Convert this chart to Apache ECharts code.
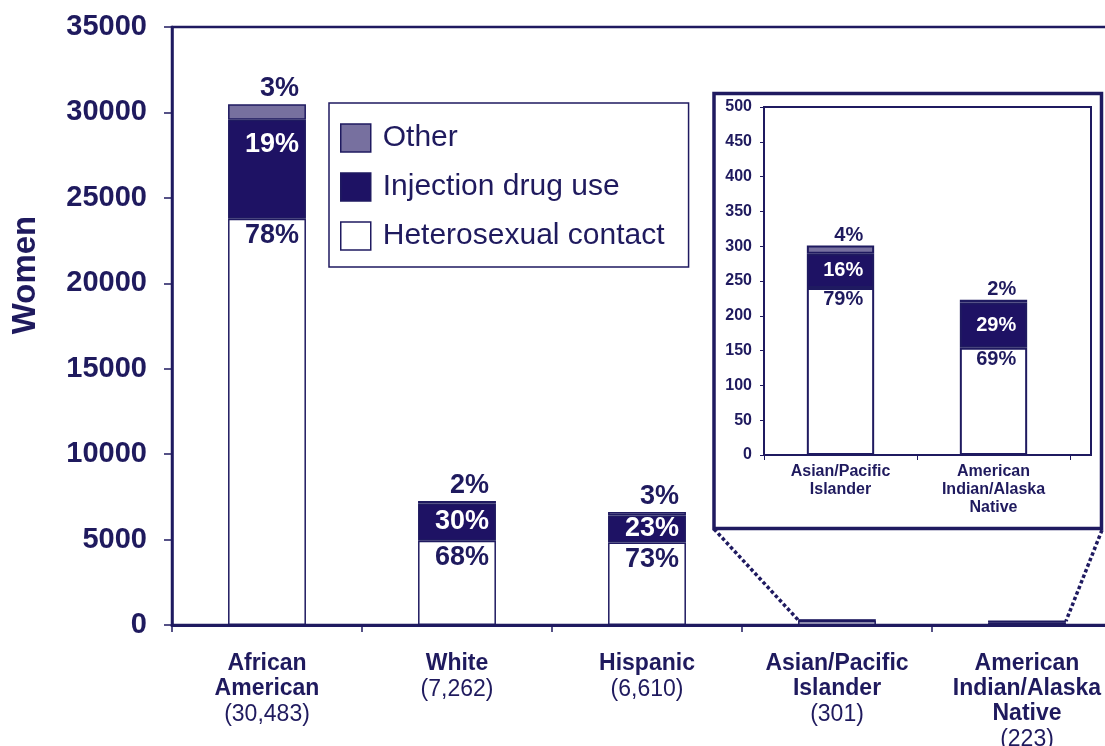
<!DOCTYPE html>
<html>
<head>
<meta charset="utf-8">
<script src="https://cdn.jsdelivr.net/npm/echarts@6/dist/echarts.min.js"></script>
<style>
  html, body { margin: 0; padding: 0; background: #fff; }
  #chart { width: 1105px; height: 746px; }
</style>
</head>
<body>
<div id="chart"></div>
<script>
// ---- data ----
const categories = ['African\nAmerican', 'White', 'Hispanic', 'Asian/Pacific\nIslander', 'American\nIndian/Alaska\nNative'];
const totals = [30483, 7262, 6610, 301, 223];
const hetero = [23777, 4938, 4825, 240, 154];
const idu = [5792, 2179, 1587, 49, 65];
const other = [914, 145, 198, 12, 4];
const pctHetero = ['78%', '68%', '73%', '79%', '69%'];
const pctIdu = ['19%', '30%', '23%', '16%', '29%'];
const pctOther = ['3%', '2%', '3%', '4%', '2%'];
const mainLabeled = [0, 1, 2];
const insetIdx = [3, 4];
const seriesNames = ['Heterosexual contact', 'Injection drug use', 'Other'];

// ---- style ----
const FONT = "'Liberation Sans', Arial, sans-serif";
const DARK = '#1f1a60';
const TXT = '#1f1a5e';
const IDU_C = '#1e1264';
const OTHER_C = '#77709f';

const chart = echarts.init(document.getElementById('chart'), null, { renderer: 'canvas' });

const MAIN = { left: 172, top: 27, right: -17, bottom: 121 };
const MAIN_W = 1105 - 172 + 17;
const INSET = { left: 764, top: 107, width: 306, height: 348 };

function mainLabelText(arr) {
  return p => mainLabeled.indexOf(p.dataIndex) >= 0 ? arr[p.dataIndex] : '';
}
function insetLabelText(arr) {
  return p => arr[insetIdx[p.dataIndex]];
}

const mainFont = { fontFamily: FONT, fontWeight: 'bold', fontSize: 27 };
const insetFont = { fontFamily: FONT, fontWeight: 'bold', fontSize: 20 };

const option = {
  animation: false,
  backgroundColor: '#fff',
  textStyle: { fontFamily: FONT, color: TXT },
  legend: {
    orient: 'vertical',
    left: 329, top: 103,
    padding: [20, 24, 16, 11],
    backgroundColor: '#fff',
    borderColor: DARK, borderWidth: 1.5,
    itemWidth: 30, itemHeight: 28, itemGap: 19,
    icon: 'rect',
    selectedMode: false,
    textStyle: { fontFamily: FONT, fontSize: 30, color: TXT, lineHeight: 30, padding: [0, 0, 0, 7] },
    data: [
      { name: 'Other', itemStyle: { color: OTHER_C, borderColor: DARK, borderWidth: 1.5 } },
      { name: 'Injection drug use', itemStyle: { color: IDU_C, borderColor: DARK, borderWidth: 1.5 } },
      { name: 'Heterosexual contact', itemStyle: { color: '#fff', borderColor: DARK, borderWidth: 1.5 } }
    ],
    z: 10
  },
  grid: [
    Object.assign({ show: true, borderColor: DARK, borderWidth: 2.5, backgroundColor: 'transparent',
      outerBoundsMode: 'none', containLabel: false }, MAIN),
    Object.assign({ show: false, outerBoundsMode: 'none', containLabel: false }, INSET)
  ],
  xAxis: [
    {
      gridIndex: 0, type: 'category', data: categories,
      axisLine: { lineStyle: { color: DARK, width: 3 } },
      axisTick: { show: true, length: 7, lineStyle: { color: DARK, width: 1.5 } },
      axisLabel: {
        margin: 26, interval: 0,
        formatter: (val, idx) => val.split('\n').map(l => '{b|' + l + '}').join('\n') +
          '\n{n|(' + totals[idx].toLocaleString('en-US') + ')}',
        rich: {
          b: { fontFamily: FONT, fontWeight: 'bold', fontSize: 23, color: TXT, lineHeight: 25 },
          n: { fontFamily: FONT, fontWeight: 'normal', fontSize: 23, color: TXT, lineHeight: 27 }
        }
      }
    },
    {
      gridIndex: 1, type: 'category', data: insetIdx.map(i => categories[i]),
      axisLine: { lineStyle: { color: DARK, width: 2 } },
      axisTick: { show: true, length: 5, lineStyle: { color: DARK, width: 1 } },
      axisLabel: { margin: 8, interval: 0, fontFamily: FONT, fontWeight: 'bold', fontSize: 16, lineHeight: 18, color: TXT }
    }
  ],
  yAxis: [
    {
      gridIndex: 0, type: 'value', min: 0, max: 35000, interval: 5000,
      splitLine: { show: false },
      axisLine: { show: true, lineStyle: { color: DARK, width: 2.5 } },
      axisTick: { show: true, length: 8, lineStyle: { color: DARK, width: 1.5 } },
      axisLabel: { margin: 25, fontFamily: FONT, fontWeight: 'bold', fontSize: 29, color: TXT,
        formatter: v => String(v) }
    },
    {
      gridIndex: 1, type: 'value', min: 0, max: 500, interval: 50,
      splitLine: { show: false },
      axisLine: { show: true, lineStyle: { color: DARK, width: 2 } },
      axisTick: { show: true, length: 4, lineStyle: { color: DARK, width: 1 } },
      axisLabel: { margin: 12, fontFamily: FONT, fontWeight: 'bold', fontSize: 16, color: TXT,
        formatter: v => String(v) }
    }
  ],
  series: [
    {
      name: seriesNames[0], type: 'bar', stack: 'main', xAxisIndex: 0, yAxisIndex: 0,
      barWidth: '41%', data: hetero,
      itemStyle: { color: '#fff', borderColor: DARK, borderWidth: 1.5 },
      label: Object.assign({ show: true, position: 'insideTopRight', distance: 7, offset: [0, -4], color: TXT,
        formatter: mainLabelText(pctHetero) }, mainFont)
    },
    {
      name: seriesNames[1], type: 'bar', stack: 'main', xAxisIndex: 0, yAxisIndex: 0,
      barWidth: '41%',
      data: idu.map((v, i) => i === 0 ? { value: v, label: { position: 'insideTopRight', offset: [0, 4] } } : v),
      itemStyle: { color: IDU_C, borderColor: DARK, borderWidth: 1.5 },
      label: Object.assign({ show: true, position: 'insideRight', distance: 7, color: '#fff',
        formatter: mainLabelText(pctIdu) }, mainFont)
    },
    {
      name: seriesNames[2], type: 'bar', stack: 'main', xAxisIndex: 0, yAxisIndex: 0,
      barWidth: '41%', data: other,
      itemStyle: { color: OTHER_C, borderColor: DARK, borderWidth: 1.5 },
      label: Object.assign({ show: true, position: ['100%', 0], align: 'right', verticalAlign: 'bottom',
        offset: [-7, -2], color: TXT, formatter: mainLabelText(pctOther) }, mainFont)
    },
    {
      name: seriesNames[0], type: 'bar', stack: 'inset', xAxisIndex: 1, yAxisIndex: 1,
      barWidth: '44%', data: insetIdx.map(i => hetero[i]),
      itemStyle: { color: '#fff', borderColor: DARK, borderWidth: 2 },
      label: Object.assign({ show: true, position: 'insideTopRight', distance: 11, offset: [0, -9], color: TXT,
        formatter: insetLabelText(pctHetero) }, insetFont)
    },
    {
      name: seriesNames[1], type: 'bar', stack: 'inset', xAxisIndex: 1, yAxisIndex: 1,
      barWidth: '44%', data: insetIdx.map(i => idu[i]),
      itemStyle: { color: IDU_C, borderColor: DARK, borderWidth: 2 },
      label: Object.assign({ show: true, position: 'insideRight', distance: 11, color: '#fff',
        formatter: insetLabelText(pctIdu) }, insetFont)
    },
    {
      name: seriesNames[2], type: 'bar', stack: 'inset', xAxisIndex: 1, yAxisIndex: 1,
      barWidth: '44%', data: insetIdx.map(i => other[i]),
      itemStyle: { color: OTHER_C, borderColor: DARK, borderWidth: 2 },
      label: Object.assign({ show: true, position: ['100%', 0], align: 'right', verticalAlign: 'bottom',
        offset: [-11, 0], color: TXT, formatter: insetLabelText(pctOther) }, insetFont)
    }
  ],
  graphic: [
    { id: 'insetBox', type: 'rect', z: -10, silent: true,
      shape: { x: 714, y: 93.5, width: 387.5, height: 435 },
      style: { fill: '#fff', stroke: DARK, lineWidth: 3.5 } },
    { id: 'insetFrame', type: 'rect', z: 5, silent: true,
      shape: { x: INSET.left, y: INSET.top, width: 327, height: INSET.height },
      style: { fill: null, stroke: DARK, lineWidth: 2 } },
    { id: 'yTitle', type: 'text', x: 26, y: 275, rotation: Math.PI / 2, silent: true,
      style: { text: 'Women', fontFamily: FONT, fontWeight: 'bold', fontSize: 33, fill: TXT,
        align: 'center', verticalAlign: 'middle' } }
  ]
};

chart.setOption(option);

// connector lines from inset box to the small bars in the main chart
const catW = MAIN_W / categories.length;
const halfBar = catW * 0.41 / 2;
const pA = chart.convertToPixel({ xAxisIndex: 0, yAxisIndex: 0 }, [insetIdx[0], totals[insetIdx[0]]]);
const pB = chart.convertToPixel({ xAxisIndex: 0, yAxisIndex: 0 }, [insetIdx[1], totals[insetIdx[1]]]);
chart.setOption({
  graphic: [
    { id: 'connL', type: 'line', z: 6, silent: true,
      shape: { x1: 714, y1: 529, x2: pA[0] - halfBar, y2: pA[1] },
      style: { stroke: DARK, lineWidth: 3.5, lineDash: [3.5, 2.5] } },
    { id: 'connR', type: 'line', z: 6, silent: true,
      shape: { x1: 1102, y1: 530, x2: pB[0] + halfBar, y2: pB[1] },
      style: { stroke: DARK, lineWidth: 3.5, lineDash: [3.5, 2.5] } }
  ]
});
</script>
</body>
</html>
